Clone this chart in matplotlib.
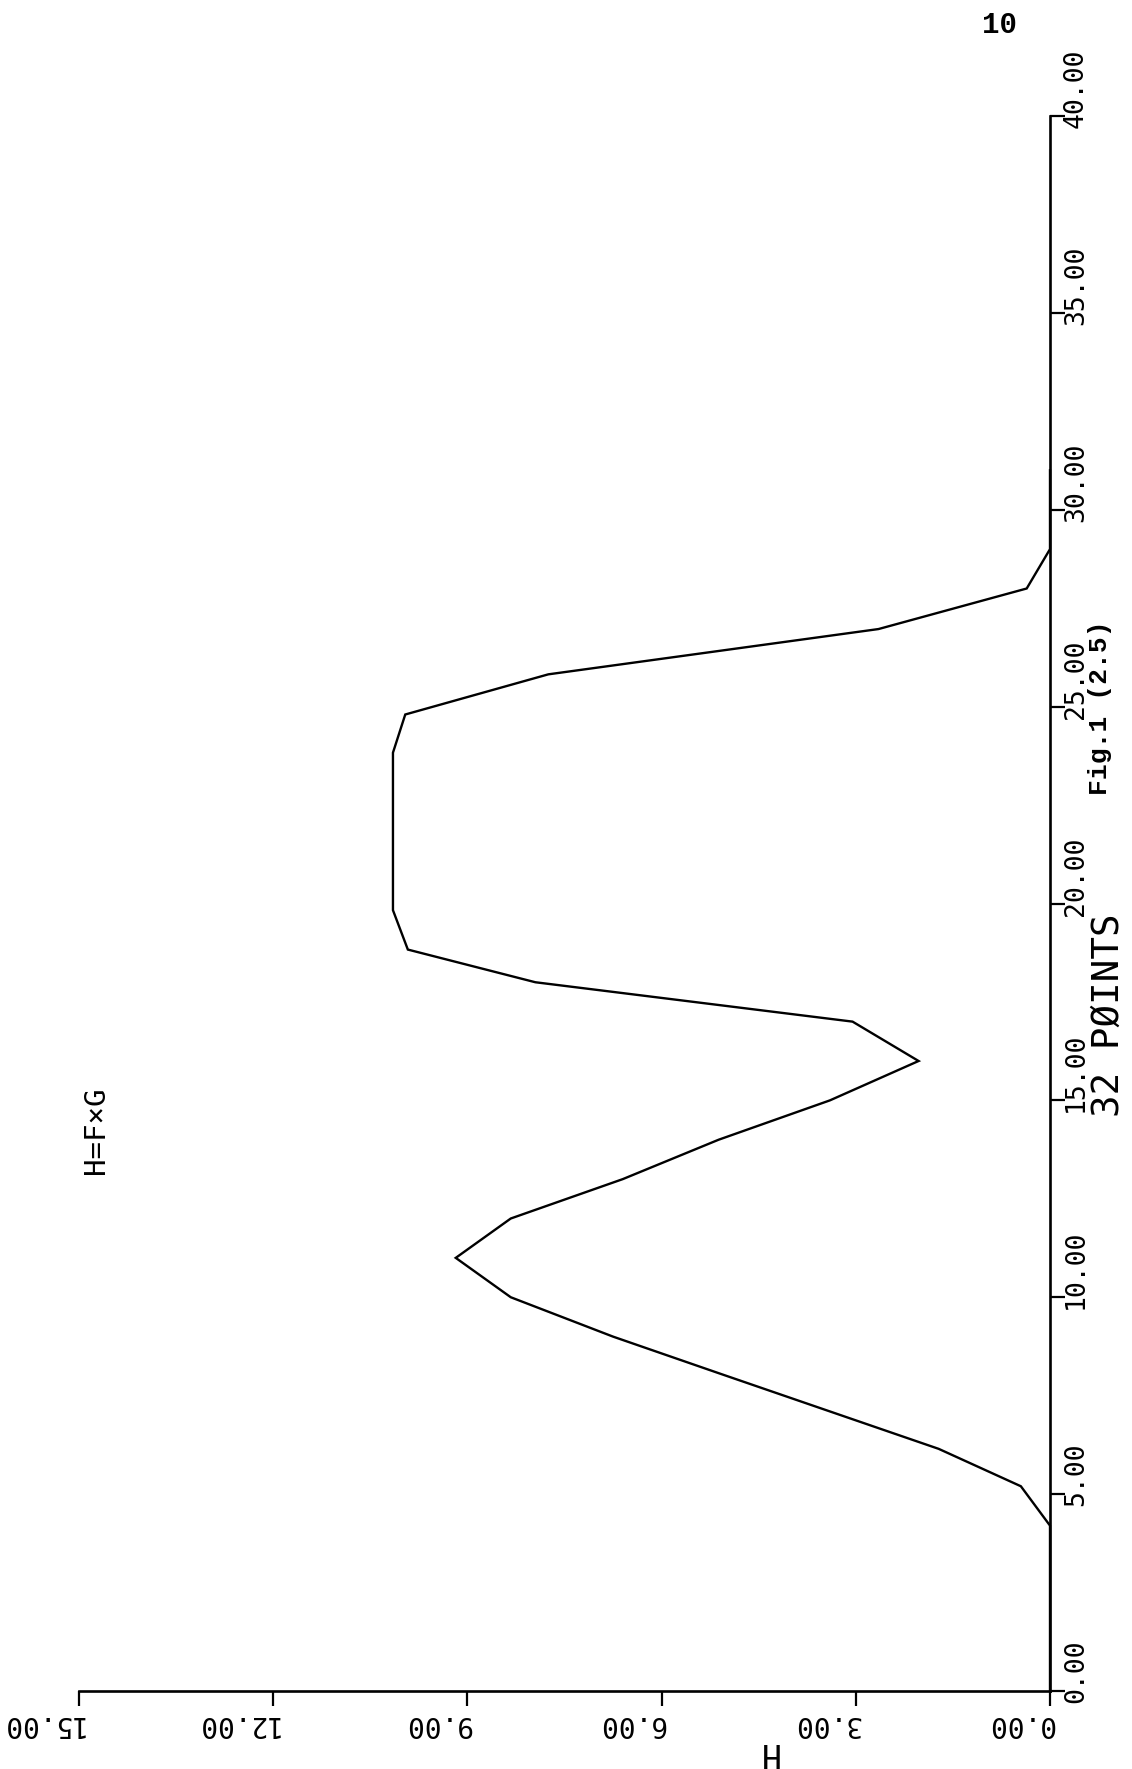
import matplotlib
matplotlib.use("Agg")
import matplotlib.pyplot as plt
import matplotlib.transforms as mtransforms

# ---- data ----
points = [0, 1, 2, 3, 4.2, 5.2, 6.15, 7.1, 8.05, 9.0, 10, 11, 12, 13, 14, 15,
          16, 17, 18, 18.83, 19.83, 20.83, 21.83, 22.83, 23.83, 24.8, 25.82,
          26.97, 28, 29, 30, 31]
h_values = [0, 0, 0, 0, 0, 0.45, 1.72, 3.4, 5.08, 6.75, 8.33, 9.18, 8.33, 6.6,
            5.12, 3.4, 2.03, 3.05, 7.95, 9.92, 10.15, 10.15, 10.15, 10.15,
            10.15, 9.96, 7.75, 2.65, 0.36, 0, 0, 0]
point_ticks = [0, 5, 10, 15, 20, 25, 30, 35, 40]
point_tick_labels = ["0.00", "5.00", "10.00", "15.00", "20.00", "25.00",
                     "30.00", "35.00", "40.00"]
h_ticks = [0, 3, 6, 9, 12, 15]
h_tick_labels = ["0.00", "3.00", "6.00", "9.00", "12.00", "15.00"]

W, HP = 1132, 1769
DPI = 100
fig = plt.figure(figsize=(W / DPI, HP / DPI), dpi=DPI)
fig.patch.set_facecolor("white")

# axes box in pixels: H=15 at x=79, H=0 at x=1050; point 0 at y=1691, 40 at y=116
L, R, T, B = 79, 1050, 116, 1691
ax = fig.add_axes([L / W, (HP - B) / HP, (R - L) / W, (B - T) / HP])

ax.plot(h_values, points, color="black", lw=1.7, clip_on=False,
        solid_joinstyle="miter")
ax.set_xlim(15, 0)
ax.set_ylim(0, 40)

for s in ("top", "left"):
    ax.spines[s].set_visible(False)
for s in ("right", "bottom"):
    ax.spines[s].set_linewidth(1.9)
    ax.spines[s].set_color("black")

ax.set_yticks(point_ticks)
ax.set_xticks(h_ticks)
ax.tick_params(axis="y", left=False, right=True, labelleft=False,
               labelright=False, direction="out", length=11, width=1.6)
ax.tick_params(axis="x", bottom=True, top=False, labelbottom=False,
               direction="out", length=11, width=1.6)

mono = "DejaVu Sans Mono"

def px(dx, dy):
    return mtransforms.ScaledTranslation(dx / DPI, dy / DPI, fig.dpi_scale_trans)

# point-axis tick labels (rotated, to the right of the axis)
ty = mtransforms.blended_transform_factory(ax.transAxes, ax.transData)
for v, lab in zip(point_ticks, point_tick_labels):
    ax.text(1.0, v, lab, transform=ty + px(13, -12), rotation=90,
            rotation_mode="anchor", ha="left", va="top",
            fontsize=19, family=mono, color="black")

# H-axis tick labels (upside down, below the axis)
tx = mtransforms.blended_transform_factory(ax.transData, ax.transAxes)
for v, lab in zip(h_ticks, h_tick_labels):
    ax.text(v, 0.0, lab, transform=tx + px(4, -25), rotation=180,
            rotation_mode="anchor", ha="left", va="baseline",
            fontsize=20, family=mono, color="black")

def fxy(x_px, y_px):
    return x_px / W, 1 - y_px / HP

# axis titles and headings
fig.text(*fxy(768, 1752), "H", rotation=180, ha="center", va="center",
         fontsize=24, family=mono)
fig.text(*fxy(1109, 1015), "32 PØINTS", rotation=90, ha="center",
         va="center", fontsize=27, family=mono)
fig.text(*fxy(96, 1130), "H=F×G", rotation=90, ha="center", va="center",
         fontsize=21, family=mono)

# stamps
fig.text(*fxy(1100, 708), "Fig.1 (2.5)", rotation=90, ha="center",
         va="center", fontsize=19, family="Liberation Mono", weight="bold")
fig.text(*fxy(999, 25), "10", ha="center", va="center",
         fontsize=21, family="Liberation Mono", weight="bold")

fig.savefig("out.png", dpi=DPI, facecolor="white")
